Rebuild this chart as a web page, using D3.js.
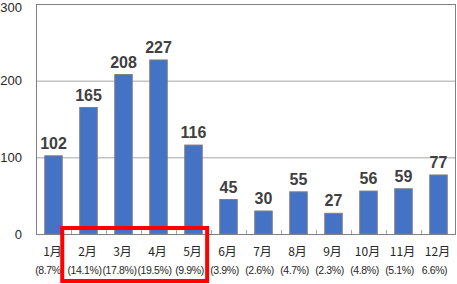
<!DOCTYPE html>
<html>
<head>
<meta charset="utf-8">
<script src="https://cdn.jsdelivr.net/npm/d3@7"></script>
<style>
  body { margin: 0; background: #fff; }
  svg { display: block; }
</style>
</head>
<body>
<div class="chart"></div>
<script>
// data
var months = ["1月","2月","3月","4月","5月","6月","7月","8月","9月","10月","11月","12月"];
var counts = [102, 165, 208, 227, 116, 45, 30, 55, 27, 56, 59, 77];
var shares = ["(8.7%)","(14.1%)","(17.8%)","(19.5%)","(9.9%)","(3.9%)","(2.6%)","(4.7%)","(2.3%)","(4.8%)","(5.1%)","6.6%)"];
var yTicks = [0, 100, 200, 300];
var highlight = ["2月","3月","4月","5月"];

var W = 457, H = 284;
var Margin = {left: 36, right: 1, top: 4, bottom: 50};
var Width = W - Margin.left - Margin.right;
var Height = H - Margin.top - Margin.bottom;

var svg = d3.select(".chart").append("svg")
    .attr("width", W)
    .attr("height", H);

var g = svg.append("g")
    .attr("transform", "translate(" + Margin.left + "," + Margin.top + ")");

var x = d3.scaleBand().domain(months).range([0, Width]).paddingInner(0.5).paddingOuter(0.25);
var y = d3.scaleLinear().domain([0, 300]).range([Height, 0]);

// gridlines
g.selectAll(".grid").data(yTicks).enter().append("line")
    .attr("x1", 0).attr("x2", Width)
    .attr("y1", function(d) { return y(d) + 0.5; })
    .attr("y2", function(d) { return y(d) + 0.5; })
    .style("stroke", "#a6a6a6");

// plot border
g.append("rect")
    .attr("x", 0.5).attr("y", 0.5)
    .attr("width", Width - 1).attr("height", Height)
    .style("fill", "none")
    .style("stroke", "#808080");

// y labels (top one nudged down so it stays inside the page)
g.selectAll(".ylab").data(yTicks).enter().append("text")
    .attr("x", -14)
    .attr("y", function(d) { return Math.max(y(d), 3); })
    .attr("dy", "0.35em")
    .attr("text-anchor", "end")
    .style("font-family", "Liberation Sans, Arial, sans-serif")
    .style("font-size", "13px")
    .style("fill", "#262626")
    .text(function(d) { return d; });

// bars
g.selectAll(".bar").data(counts).enter().append("rect")
    .attr("x", function(d, i) { return x(months[i]); })
    .attr("y", function(d) { return y(d); })
    .attr("width", x.bandwidth())
    .attr("height", function(d) { return Height - y(d); })
    .style("fill", "#4472c4")
    .style("stroke", "#7f7f7f")
    .style("stroke-width", 1);

// inside ticks at band edges
var step = x.step();
g.selectAll(".tick").data(d3.range(1, months.length)).enter().append("line")
    .attr("x1", function(d) { return d * step + 0.5; })
    .attr("x2", function(d) { return d * step + 0.5; })
    .attr("y1", Height - 4).attr("y2", Height)
    .style("stroke", "#a6a6a6");

// value labels
g.selectAll(".val").data(counts).enter().append("text")
    .attr("x", function(d, i) { return x(months[i]) + x.bandwidth() / 2; })
    .attr("y", function(d) { return y(d) - 7; })
    .attr("text-anchor", "middle")
    .style("font-family", "Liberation Sans, Arial, sans-serif")
    .style("font-size", "16px")
    .style("font-weight", "bold")
    .style("fill", "#404040")
    .text(function(d) { return d; });

// month labels
g.selectAll(".mon").data(months).enter().append("text")
    .attr("x", function(d) { return x(d) + x.bandwidth() / 2 - 1; })
    .attr("y", Height + 22)
    .attr("text-anchor", "middle")
    .style("font-family", "Noto Sans CJK JP, sans-serif")
    .style("font-size", "12px")
    .style("fill", "#262626")
    .text(function(d) { return d; });

// share labels
g.selectAll(".pct").data(shares).enter().append("text")
    .attr("x", function(d, i) { return x(months[i]) + x.bandwidth() / 2 - 4; })
    .attr("y", Height + 40)
    .attr("text-anchor", "middle")
    .style("font-family", "Liberation Sans, Arial, sans-serif")
    .style("font-size", "10.5px")
    .style("letter-spacing", "-0.4px")
    .style("fill", "#262626")
    .text(function(d) { return d; });

// red highlight box around 2月-5月
var x0 = x(highlight[0]) - step * 0.5;
var x1 = x(highlight[highlight.length - 1]) + x.bandwidth() + step * 0.14;
g.append("rect")
    .attr("x", x0)
    .attr("y", Height - 6)
    .attr("width", x1 - x0)
    .attr("height", 53)
    .style("fill", "none")
    .style("stroke", "#ff0000")
    .style("stroke-width", 4);
</script>
</body>
</html>
